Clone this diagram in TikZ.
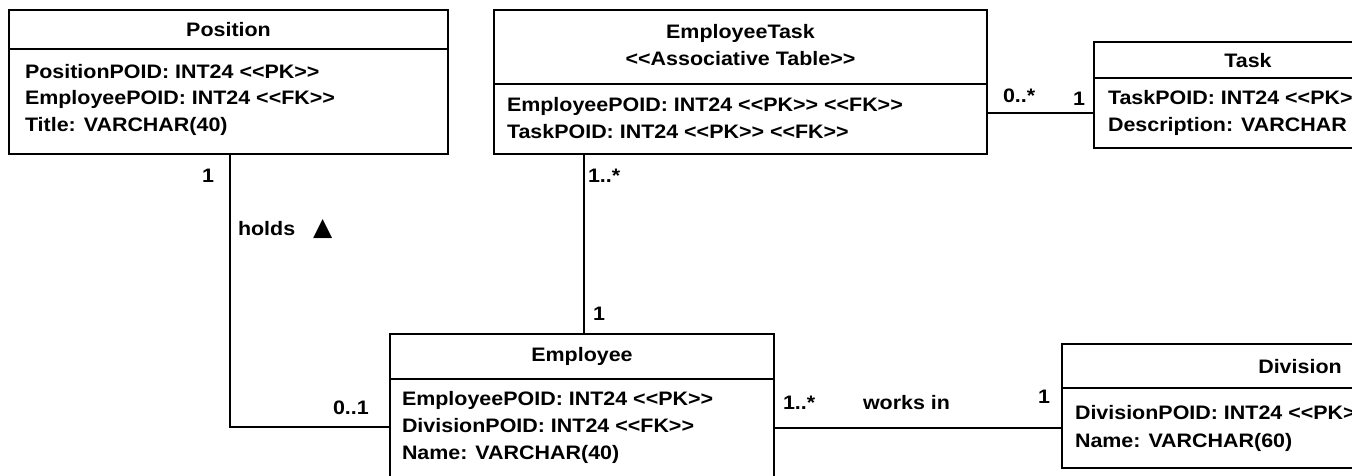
\documentclass[tikz,border=0pt]{standalone}
\usepackage{fontspec}
\setmainfont{Liberation Sans}[FakeStretch=1.1, Ligatures=TeXOff]
\newfontfamily\glyphs{DejaVu Sans}
\usetikzlibrary{calc}
\tikzset{
  txt/.style={font=\fontsize{19.5}{27}\selectfont\bfseries, inner sep=0pt, outer sep=0pt},
  cell/.style={draw, line width=1.7pt, inner sep=0pt, outer sep=0pt, anchor=north west},
  attr/.style={txt, anchor=base west},
  title/.style={txt, anchor=base},
  mult/.style={txt, anchor=base west},
  assoc/.style={line width=1.6pt},
}
\begin{document}
\begin{tikzpicture}[x=1pt,y=-1pt]
\useasboundingbox (0,0) rectangle (1352,475);
\clip (0,0) rectangle (1352,475);

% Position table
\node[cell, minimum width=439pt, minimum height=39pt]  (posH) at (9,10) {};
\node[cell, minimum width=439pt, minimum height=105pt] (posB) at (9,49) {};
\node[title] (posT) at (228.5,36) {Position};
\node[attr] (posA1) at (25,78)  {PositionPOID: INT24 <<PK>>};
\node[attr] (posA2) at (25,104.5) {EmployeePOID: INT24 <<FK>>};
\node[attr] (posA3) at (25,131) {Title: VARCHAR(40)};

% EmployeeTask associative table
\node[cell, minimum width=493pt, minimum height=74pt] (etH) at (494,10) {};
\node[cell, minimum width=493pt, minimum height=70pt] (etB) at (494,84) {};
\node[title] (etT1) at (740.5,38) {EmployeeTask};
\node[title] (etT2) at (740.5,65) {<<Associative Table>>};
\node[attr] (etA1) at (507,111) {EmployeePOID: INT24 <<PK>> <<FK>>};
\node[attr] (etA2) at (507,138) {TaskPOID: INT24 <<PK>> <<FK>>};

% Task table
\node[cell, minimum width=308pt, minimum height=36pt] (taskH) at (1094,42) {};
\node[cell, minimum width=308pt, minimum height=70pt] (taskB) at (1094,78) {};
\node[title] (taskT) at (1248,67) {Task};
\node[attr] (taskA1) at (1108,104) {TaskPOID: INT24 <<PK>>};
\node[attr] (taskA2) at (1108,131) {Description: VARCHAR};

% Employee table
\node[cell, minimum width=384pt, minimum height=45pt]  (empH) at (390,334) {};
\node[cell, minimum width=384pt, minimum height=130pt] (empB) at (390,379) {};
\node[title] (empT) at (582,361) {Employee};
\node[attr] (empA1) at (402,405) {EmployeePOID: INT24 <<PK>>};
\node[attr] (empA2) at (402,432) {DivisionPOID: INT24 <<FK>>};
\node[attr] (empA3) at (402,459) {Name: VARCHAR(40)};

% Division table
\node[cell, minimum width=476pt, minimum height=44pt] (divH) at (1062,344) {};
\node[cell, minimum width=476pt, minimum height=80pt] (divB) at (1062,388) {};
\node[title] (divT) at (1300,373) {Division};
\node[attr] (divA1) at (1075,419) {DivisionPOID: INT24 <<PK>>};
\node[attr] (divA2) at (1075,447) {Name: VARCHAR(60)};

% Associations
\draw[assoc] ([xshift=1.5pt]posB.south) |- ([yshift=-48pt]empB.north west);
\draw[assoc] ([xshift=2pt]empH.north) -- ([xshift=2pt]empH.north |- etB.south);
\draw[assoc] (etB.east |- taskB.west) -- (taskB.west);
\draw[assoc] (empB.east |- divB.west) -- (divB.west);

% Multiplicities and role names
\node[mult] (mPos)   at (202,182) {1};
\node[mult] (holds)  at (238,235) {holds\hspace{18pt}{\glyphs\fontsize{25}{25}\selectfont ▲}};
\node[mult] (mEmpL)  at (333,414) {0..1};
\node[mult] (mEtB)   at (588,182) {1..*};
\node[mult] (mEmpT)  at (593,320) {1};
\node[mult] (mEtR)   at (1003,102) {0..*};
\node[mult] (mTask)  at (1073,105) {1};
\node[mult] (mEmpR)  at (783,409) {1..*};
\node[mult] (works)  at (863,409) {works in};
\node[mult] (mDiv)   at (1038,403) {1};
\end{tikzpicture}
\end{document}
